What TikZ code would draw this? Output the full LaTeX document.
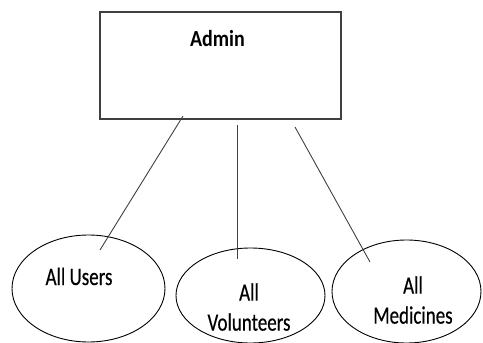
\documentclass[tikz,border=0pt]{standalone}
\usepackage{fontspec}
\newfontfamily\boxfont[FakeStretch=0.87]{Carlito}
\newfontfamily\ovalfont[FakeStretch=0.76, FakeBold=0.4]{Carlito}
\usetikzlibrary{positioning, shapes.geometric}

\tikzset{
  adminbox/.style={draw=black!75, line width=1.3pt, rectangle, minimum width=241pt, minimum height=107pt, inner sep=0pt},
  oval/.style={draw=black, line width=0.9pt, ellipse, inner sep=0pt},
  ovaltext/.style={font=\ovalfont\fontsize{25}{30}\selectfont, align=center, inner sep=0pt},
  link/.style={draw=black!75, line width=0.9pt}
}

\begin{document}
\begin{tikzpicture}[x=1pt, y=-1pt]

% Manually size the picture
\useasboundingbox (0, 0) rectangle (483, 343);

% Admin box
\node[adminbox] (admin) at (220.5, 65.5) {};
\node[font=\boxfont\bfseries\fontsize{23}{26}\selectfont, anchor=base, inner sep=0pt] (admintext) at (217.5, 46) {Admin};

% Ovals
\node[oval, minimum width=153pt, minimum height=107pt] (users) at (88.5, 288.5) {};
\node[oval, minimum width=149pt, minimum height=95pt] (volunteers) at (250.5, 295.5) {};
\node[oval, minimum width=149pt, minimum height=103pt] (medicines) at (406.5, 291.5) {};

% Oval labels
\node[ovaltext, anchor=base] (userstext) at (79, 285) {All Users};
\node[ovaltext, anchor=south] (voltext) at (249, 331) {All\\Volunteers};
\node[ovaltext, anchor=south] (medtext) at (413, 324) {All\\Medicines};

% Line ends
\coordinate (a1) at (183, 116);
\coordinate (u1) at (100, 250);
\coordinate (a2) at (237, 125);
\coordinate (v1) at (237, 259);
\coordinate (a3) at (295, 127);
\coordinate (m1) at (370, 262);

% Links
\draw[link] (a1) -- (u1);
\draw[link] (a2) -- (v1);
\draw[link] (a3) -- (m1);

\end{tikzpicture}
\end{document}
